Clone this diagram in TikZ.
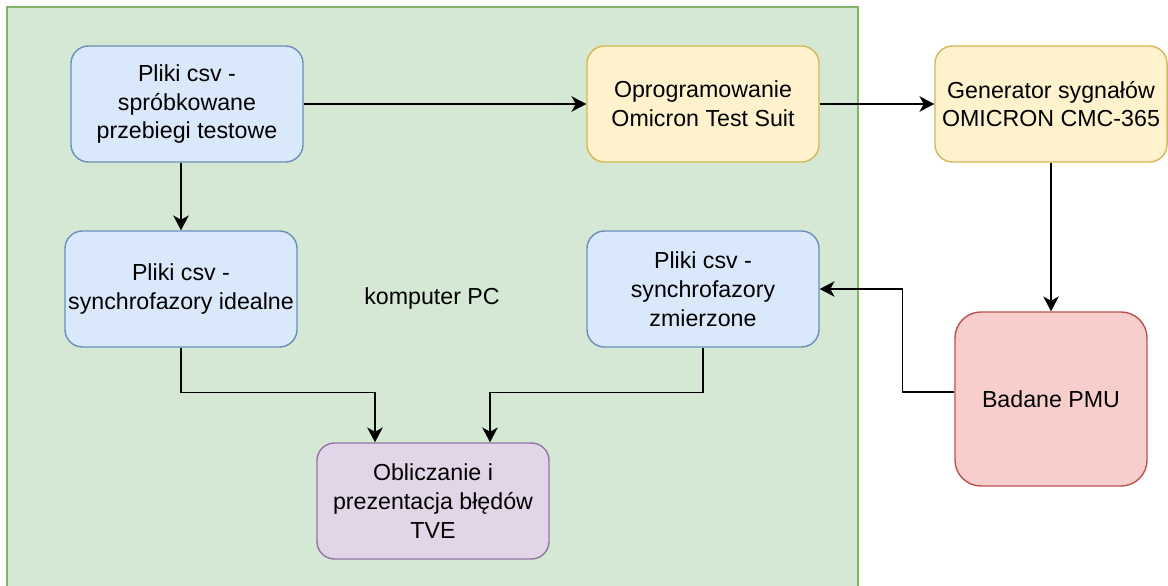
\documentclass[tikz,border=0pt]{standalone}
\usepackage{fontspec}
\setmainfont{Liberation Sans}
\usetikzlibrary{arrows.meta}

\definecolor{blueFill}{HTML}{DAE8FC}
\definecolor{blueLine}{HTML}{6C8EBF}
\definecolor{yellowFill}{HTML}{FFF2CC}
\definecolor{yellowLine}{HTML}{D6B656}
\definecolor{redFill}{HTML}{F8CECC}
\definecolor{redLine}{HTML}{B85450}
\definecolor{violetFill}{HTML}{E1D5E7}
\definecolor{violetLine}{HTML}{9673A6}
\definecolor{greenFill}{HTML}{D5E8D4}
\definecolor{greenLine}{HTML}{82B366}

\tikzset{
  box/.style={draw, line width=1pt, rounded corners=0.44cm, align=center,
    minimum width=5.8cm, minimum height=2.9cm, inner sep=2pt,
    font=\fontsize{16.5}{20.5}\selectfont},
  bluebox/.style={box, fill=blueFill, draw=blueLine},
  yellowbox/.style={box, fill=yellowFill, draw=yellowLine},
  violetbox/.style={box, fill=violetFill, draw=violetLine},
  redbox/.style={box, fill=redFill, draw=redLine, rounded corners=0.65cm,
    minimum width=4.8cm, minimum height=4.35cm},
  arr/.style={-{Stealth[length=10.5pt, width=11pt, inset=3pt]}, line width=1pt, black}
}

\begin{document}
\begin{tikzpicture}[x=0.025cm, y=-0.025cm]
    \useasboundingbox (0,0) rectangle (1168,585);

    % Computer area
    \fill[greenFill] (7,7) rectangle (858,600);
    \draw[greenLine, line width=1.4pt] (7,600) -- (7,7) -- (858,7) -- (858,600);
    \node[font=\fontsize{16.5}{20.5}\selectfont] (pc) at (432,298) {komputer PC};

    % Files and software
    \node[bluebox] (csvTest) at (187,104) {Pliki csv -\\spróbkowane\\przebiegi testowe};
    \node[yellowbox] (omiSoft) at (703,104) {Oprogramowanie\\Omicron Test Suit};
    \node[bluebox] (csvIdeal) at (181,289) {Pliki csv -\\synchrofazory idealne};
    \node[bluebox] (csvMeas) at (703,289) {Pliki csv -\\synchrofazory\\zmierzone};
    \node[violetbox] (tve) at (433,501) {Obliczanie i\\prezentacja błędów\\TVE};

    % Hardware
    \node[yellowbox] (omiGen) at (1051,104) {Generator sygnałów\\OMICRON CMC-365};
    \node[redbox] (pmu) at (1051,399) {Badane PMU};

    % Connections
    \draw[arr] (csvTest.east) -- (omiSoft.west);
    \draw[arr] (omiSoft.east) -- (omiGen.west);
    \draw[arr] (csvIdeal.north |- csvTest.south) -- (csvIdeal.north);
    \draw[arr] (omiGen.south) -- (pmu.north);
    \draw[arr] ([yshift=5pt]pmu.west) -- ++(-52,0) |- (csvMeas.east);
    \draw[arr] (csvIdeal.south) -- ++(0,45) -| ([xshift=-1.45cm]tve.north);
    \draw[arr] (csvMeas.south) -- ++(0,45) -| ([xshift=1.425cm]tve.north);

\end{tikzpicture}
\end{document}
